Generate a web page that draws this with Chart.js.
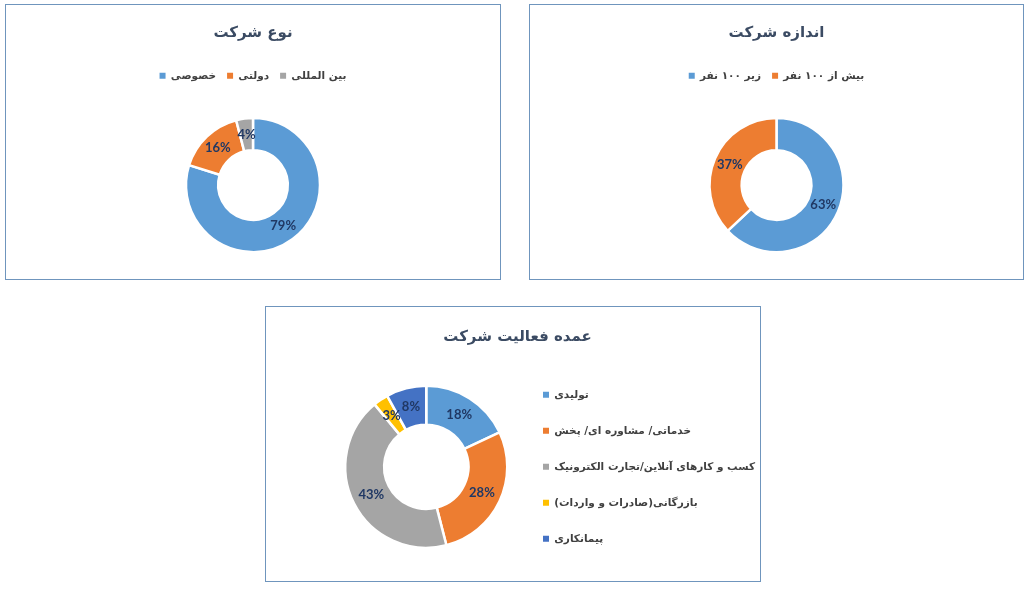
<!DOCTYPE html>
<html>
<head>
<meta charset="utf-8">
<script src="https://cdn.jsdelivr.net/npm/chart.js@4"></script>
<style>
  body { margin: 0; background: #fff; width: 1033px; height: 592px; position: relative; overflow: hidden; }
  .box { position: absolute; border: 1px solid #6f95bd; box-sizing: border-box; background: #fff; }
  .box canvas { display: block; }
</style>
</head>
<body>
<div class="box" style="left:5px;top:4px;width:496px;height:276px"><canvas id="typeChart" width="494" height="274"></canvas></div>
<div class="box" style="left:529px;top:4px;width:495px;height:276px"><canvas id="sizeChart" width="493" height="274"></canvas></div>
<div class="box" style="left:265px;top:306px;width:496px;height:276px"><canvas id="activityChart" width="494" height="274"></canvas></div>
<script>
// data
const typeTitle = 'نوع شرکت';
const typeLabels = ['خصوصی', 'دولتی', 'بین المللی'];
const typeValues = [79, 16, 4];

const sizeTitle = 'اندازه شرکت';
const sizeLabels = ['زیر ۱۰۰ نفر', 'بیش از ۱۰۰ نفر'];
const sizeValues = [63, 37];

const activityTitle = 'عمده فعالیت شرکت';
const activityLabels = ['تولیدی', 'خدماتی/ مشاوره ای/ پخش', 'کسب و کارهای آنلاین/تجارت الکترونیک', 'بازرگانی(صادرات و واردات)', 'پیمانکاری'];
const activityValues = [18, 28, 43, 3, 8];

const palette = ['#5b9bd5', '#ed7d31', '#a5a5a5', '#ffc000', '#4472c4'];

const FONT = '"DejaVu Sans", sans-serif';

// percent labels in the middle of each slice
const pctLabels = {
  id: 'pctLabels',
  afterDatasetsDraw(chart) {
    const ctx = chart.ctx;
    const ds = chart.data.datasets[0];
    ctx.save();
    ctx.font = 'bold 13px Lato, sans-serif';
    ctx.fillStyle = '#203864';
    ctx.textAlign = 'center';
    ctx.textBaseline = 'middle';
    chart.getDatasetMeta(0).data.forEach((arc, i) => {
      const p = arc.tooltipPosition();
      ctx.fillText(ds.data[i] + '%', p.x, p.y);
    });
    ctx.restore();
  }
};

// side legend is narrower than its text; let it run to the canvas edge instead of being clipped
const widenLegend = {
  id: 'widenLegend',
  afterLayout(chart) {
    const lg = chart.legend;
    if (lg && lg.position === 'right') {
      lg.right = chart.width;
      lg.width = lg.right - lg.left;
    }
  }
};

function legendItems(chart) {
  return Chart.overrides.doughnut.plugins.legend.labels.generateLabels(chart)
    .map(l => Object.assign(l, { lineWidth: 0 }));
}

function makeDonut(id, title, labels, values, radius, titlePad, legendOpts, labelPad, layoutPad) {
  return new Chart(document.getElementById(id), {
    type: 'doughnut',
    data: {
      labels: labels,
      datasets: [{
        data: values,
        backgroundColor: palette.slice(0, values.length),
        borderColor: '#fff',
        borderWidth: 2.5
      }]
    },
    options: {
      responsive: false,
      animation: false,
      radius: radius,
      cutout: '52%',
      layout: { padding: layoutPad },
      plugins: {
        title: {
          display: true,
          text: title,
          color: '#3b4b63',
          font: { family: FONT, size: 15, weight: 'bold' },
          padding: titlePad
        },
        legend: Object.assign({
          textDirection: 'rtl',
          labels: {
            color: '#404040',
            font: { family: FONT, size: 10.5, weight: 'bold' },
            boxWidth: 6,
            boxHeight: 6,
            padding: labelPad,
            generateLabels: legendItems
          }
        }, legendOpts),
        tooltip: { enabled: false }
      }
    },
    plugins: [pctLabels, widenLegend]
  });
}

makeDonut('typeChart', typeTitle, typeLabels, typeValues, 67,
  { top: 19, bottom: 17.6 }, { position: 'top' }, 11,
  { top: 0, bottom: 0, left: 0, right: 0 });

makeDonut('sizeChart', sizeTitle, sizeLabels, sizeValues, 67,
  { top: 19, bottom: 17.6 }, { position: 'top' }, 11,
  { top: 0, bottom: 0, left: 0, right: 0 });

makeDonut('activityChart', activityTitle, activityLabels, activityValues, 81,
  { top: 21, bottom: 9.6 }, { position: 'right', align: 'center', fullSize: false }, 25.5,
  { top: 0, bottom: 3, left: 69, right: 60 });
</script>
</body>
</html>
